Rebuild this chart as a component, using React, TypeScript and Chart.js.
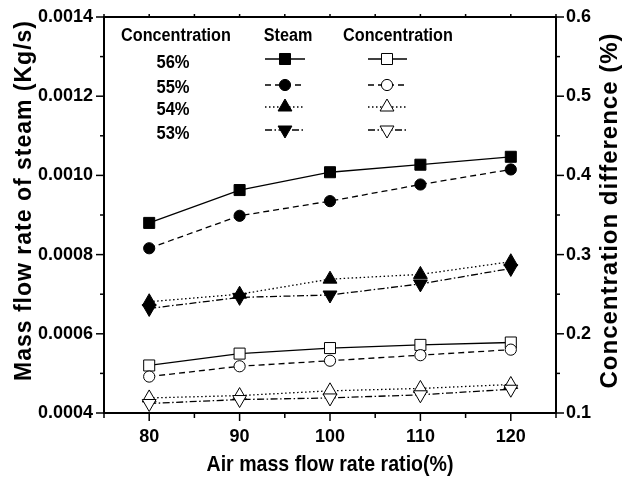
import React, { useEffect, useRef } from 'react';
import { Chart, registerables } from 'chart.js';

Chart.register(...registerables);

// ---- data ----
const airRatio = [80, 90, 100, 110, 120];
const steam56 = [0.00088, 0.000963, 0.001008, 0.001027, 0.001047];
const steam55 = [0.000816, 0.000898, 0.000935, 0.000977, 0.001015];
const steam54 = [0.000681, 0.0007, 0.000738, 0.00075, 0.000782];
const steam53 = [0.000664, 0.000692, 0.000698, 0.000726, 0.000765];
const conc56 = [0.16, 0.175, 0.182, 0.186, 0.189];
const conc55 = [0.146, 0.159, 0.166, 0.173, 0.18];
const conc54 = [0.119, 0.122, 0.128, 0.131, 0.136];
const conc53 = [0.112, 0.117, 0.119, 0.123, 0.13];

const xTicks = [80, 90, 100, 110, 120];
const xMinorTicks = [75, 85, 95, 105, 115, 125];
const leftTicks = [0.0004, 0.0006, 0.0008, 0.001, 0.0012, 0.0014];
const leftMinorTicks = [0.0005, 0.0007, 0.0009, 0.0011, 0.0013];
const rightTicks = [0.1, 0.2, 0.3, 0.4, 0.5, 0.6];
const rightMinorTicks = [0.15, 0.25, 0.35, 0.45, 0.55];
const legendRows = ['56%', '55%', '54%', '53%'];
const legendHeaders = ['Concentration', 'Steam', 'Concentration'];

const xTitle = 'Air mass flow rate ratio(%)';
const leftTitle = 'Mass flow rate of steam (Kg/s)';
const rightTitle = 'Concentration difference (%)';

const FONT = "'Liberation Sans', Arial, sans-serif";

type Mk = 'rect' | 'circle' | 'up' | 'down';
const styles: Mk[] = ['rect', 'circle', 'up', 'down'];
const dashes: number[][] = [[], [6, 4], [1.5, 2.5], [7, 2.5, 1.5, 2.5]];
const radii: Record<Mk, number> = { rect: 7.8, circle: 5.6, up: 8, down: 8 };

function drawMarker(ctx: CanvasRenderingContext2D, m: Mk, x: number, y: number, filled: boolean) {
  const r = radii[m];
  ctx.save();
  ctx.setLineDash([]);
  ctx.lineWidth = 1;
  ctx.strokeStyle = '#000';
  ctx.fillStyle = filled ? '#000' : '#fff';
  ctx.beginPath();
  if (m === 'rect') {
    const s = Math.SQRT1_2 * r;
    ctx.rect(x - s, y - s, 2 * s, 2 * s);
  } else if (m === 'circle') {
    ctx.arc(x, y, r, 0, Math.PI * 2);
  } else {
    const dir = m === 'up' ? 1 : -1;
    let a = 0;
    for (let k = 0; k < 3; k++) {
      const px = x + Math.sin(a) * r;
      const py = y - dir * Math.cos(a) * r;
      if (k === 0) ctx.moveTo(px, py);
      else ctx.lineTo(px, py);
      a += (2 * Math.PI) / 3;
    }
    ctx.closePath();
  }
  ctx.fill();
  ctx.stroke();
  ctx.restore();
}

function condensedText(ctx: CanvasRenderingContext2D, text: string, x: number, y: number, size: number, sx: number, align: CanvasTextAlign) {
  ctx.save();
  ctx.translate(x, y);
  ctx.scale(sx, 1);
  ctx.font = `bold ${size}px ${FONT}`;
  ctx.textAlign = align;
  ctx.textBaseline = 'alphabetic';
  ctx.fillStyle = '#000';
  ctx.fillText(text, 0, 0);
  ctx.restore();
}

function verticalTitle(ctx: CanvasRenderingContext2D, text: string, x: number, y: number, size: number, spacing: number) {
  ctx.save();
  ctx.translate(x, y);
  ctx.rotate(-Math.PI / 2);
  ctx.font = `bold ${size}px ${FONT}`;
  (ctx as any).letterSpacing = `${spacing}px`;
  ctx.textAlign = 'center';
  ctx.textBaseline = 'alphabetic';
  ctx.fillStyle = '#000';
  ctx.fillText(text, spacing / 2, 0);
  ctx.restore();
}

const decorPlugin = {
  id: 'decor',
  afterDraw(chart: any) {
    const ctx: CanvasRenderingContext2D = chart.ctx;
    const ca = chart.chartArea;
    const sx = chart.scales.x;
    const sy = chart.scales.y;
    const sr = chart.scales.y1;
    ctx.save();
    ctx.strokeStyle = '#000';
    ctx.lineWidth = 2;
    ctx.setLineDash([]);
    ctx.strokeRect(ca.left, ca.top, ca.right - ca.left, ca.bottom - ca.top);

    ctx.lineWidth = 1.5;
    const line = (x1: number, y1: number, x2: number, y2: number) => {
      ctx.beginPath();
      ctx.moveTo(x1, y1);
      ctx.lineTo(x2, y2);
      ctx.stroke();
    };
    xTicks.forEach((v) => {
      const p = sx.getPixelForValue(v);
      line(p, ca.bottom, p, ca.bottom + 8);
      line(p, ca.top, p, ca.top - 3);
    });
    xMinorTicks.forEach((v) => {
      const p = sx.getPixelForValue(v);
      line(p, ca.bottom, p, ca.bottom + 5);
      line(p, ca.top, p, ca.top - 3);
    });
    leftTicks.forEach((v) => {
      const p = sy.getPixelForValue(v);
      line(ca.left - 8, p, ca.left, p);
    });
    leftMinorTicks.forEach((v) => {
      const p = sy.getPixelForValue(v);
      line(ca.left - 4, p, ca.left, p);
    });
    rightTicks.forEach((v) => {
      const p = sr.getPixelForValue(v);
      line(ca.right, p, ca.right + 8, p);
    });
    rightMinorTicks.forEach((v) => {
      const p = sr.getPixelForValue(v);
      line(ca.right, p, ca.right + 4, p);
    });

    // titles
    condensedText(ctx, xTitle, (ca.left + ca.right) / 2, 471, 22, 0.89, 'center');
    verticalTitle(ctx, leftTitle, 31, 201, 23, 1);
    verticalTitle(ctx, rightTitle, 617, 211, 24, 1);

    // legend
    const headerX = [176, 288, 398];
    legendHeaders.forEach((h, i) => condensedText(ctx, h, headerX[i], 41, 18, 0.9, 'center'));
    const rowBase = [68, 93, 115, 139];
    const rowMark = [59, 85, 107, 130];
    legendRows.forEach((t, i) => {
      condensedText(ctx, t, 173, rowBase[i], 18, 0.92, 'center');
      const y = rowMark[i];
      ctx.save();
      ctx.lineWidth = 1.3;
      ctx.setLineDash(dashes[i]);
      line(265, y, 305, y);
      line(368, y, 407, y);
      ctx.restore();
      drawMarker(ctx, styles[i], 285, y, true);
      drawMarker(ctx, styles[i], 387, y, false);
    });
    ctx.restore();
  },
};

function mkDataset(label: string, values: number[], axis: string, i: number, filled: boolean) {
  const m = styles[i];
  return {
    label,
    data: airRatio.map((x, k) => ({ x, y: values[k] })),
    yAxisID: axis,
    borderColor: '#000',
    borderWidth: 1.3,
    borderDash: dashes[i],
    pointStyle: m === 'rect' ? 'rect' : m === 'circle' ? 'circle' : 'triangle',
    pointRotation: m === 'down' ? 180 : 0,
    pointRadius: radii[m],
    pointHoverRadius: radii[m],
    pointBackgroundColor: filled ? '#000' : '#fff',
    pointBorderColor: '#000',
    pointBorderWidth: 1,
    fill: false,
    tension: 0,
    order: 4 - i,
  };
}

export default function App() {
  const ref = useRef<HTMLCanvasElement>(null);
  useEffect(() => {
    if (!ref.current) return;
    const tickFont = { family: FONT, size: 18, weight: 'bold' as const };
    const hiddenGrid = { color: 'rgba(0,0,0,0)', drawOnChartArea: false, drawTicks: true, tickLength: 8 };
    const chart = new Chart(ref.current, {
      type: 'line',
      data: {
        datasets: [
          mkDataset('Steam 56%', steam56, 'y', 0, true),
          mkDataset('Steam 55%', steam55, 'y', 1, true),
          mkDataset('Steam 54%', steam54, 'y', 2, true),
          mkDataset('Steam 53%', steam53, 'y', 3, true),
          mkDataset('Concentration 56%', conc56, 'y1', 0, false),
          mkDataset('Concentration 55%', conc55, 'y1', 1, false),
          mkDataset('Concentration 54%', conc54, 'y1', 2, false),
          mkDataset('Concentration 53%', conc53, 'y1', 3, false),
        ] as any,
      },
      options: {
        responsive: false,
        animation: false,
        layout: { padding: { top: 17, left: 0, right: 0, bottom: 0 } },
        plugins: { legend: { display: false }, tooltip: { enabled: false } },
        scales: {
          x: {
            type: 'linear',
            min: 75,
            max: 125,
            afterBuildTicks: (s: any) => {
              s.ticks = xTicks.map((v) => ({ value: v }));
            },
            afterFit: (s: any) => {
              s.height = 67;
            },
            grid: hiddenGrid,
            border: { display: false },
            ticks: { font: tickFont, color: '#000', padding: 5, maxRotation: 0, autoSkip: false },
          },
          y: {
            type: 'linear',
            position: 'left',
            min: 0.0004,
            max: 0.0014,
            afterBuildTicks: (s: any) => {
              s.ticks = leftTicks.map((v) => ({ value: v }));
            },
            afterFit: (s: any) => {
              s.width = 104;
            },
            grid: hiddenGrid,
            border: { display: false },
            ticks: { font: tickFont, color: '#000', padding: 3, callback: (v: any) => Number(v).toFixed(4) },
          },
          y1: {
            type: 'linear',
            position: 'right',
            min: 0.1,
            max: 0.6,
            afterBuildTicks: (s: any) => {
              s.ticks = rightTicks.map((v) => ({ value: v }));
            },
            afterFit: (s: any) => {
              s.width = 70;
            },
            grid: hiddenGrid,
            border: { display: false },
            ticks: { font: tickFont, color: '#000', padding: 2, callback: (v: any) => Number(v).toFixed(1) },
          },
        },
      } as any,
      plugins: [decorPlugin],
    });
    return () => chart.destroy();
  }, []);
  return (
    <div style={{ position: 'fixed', left: 0, top: 0, width: 626, height: 480, background: '#fff' }}>
      <canvas ref={ref} width={626} height={480} style={{ display: 'block' }} />
    </div>
  );
}
